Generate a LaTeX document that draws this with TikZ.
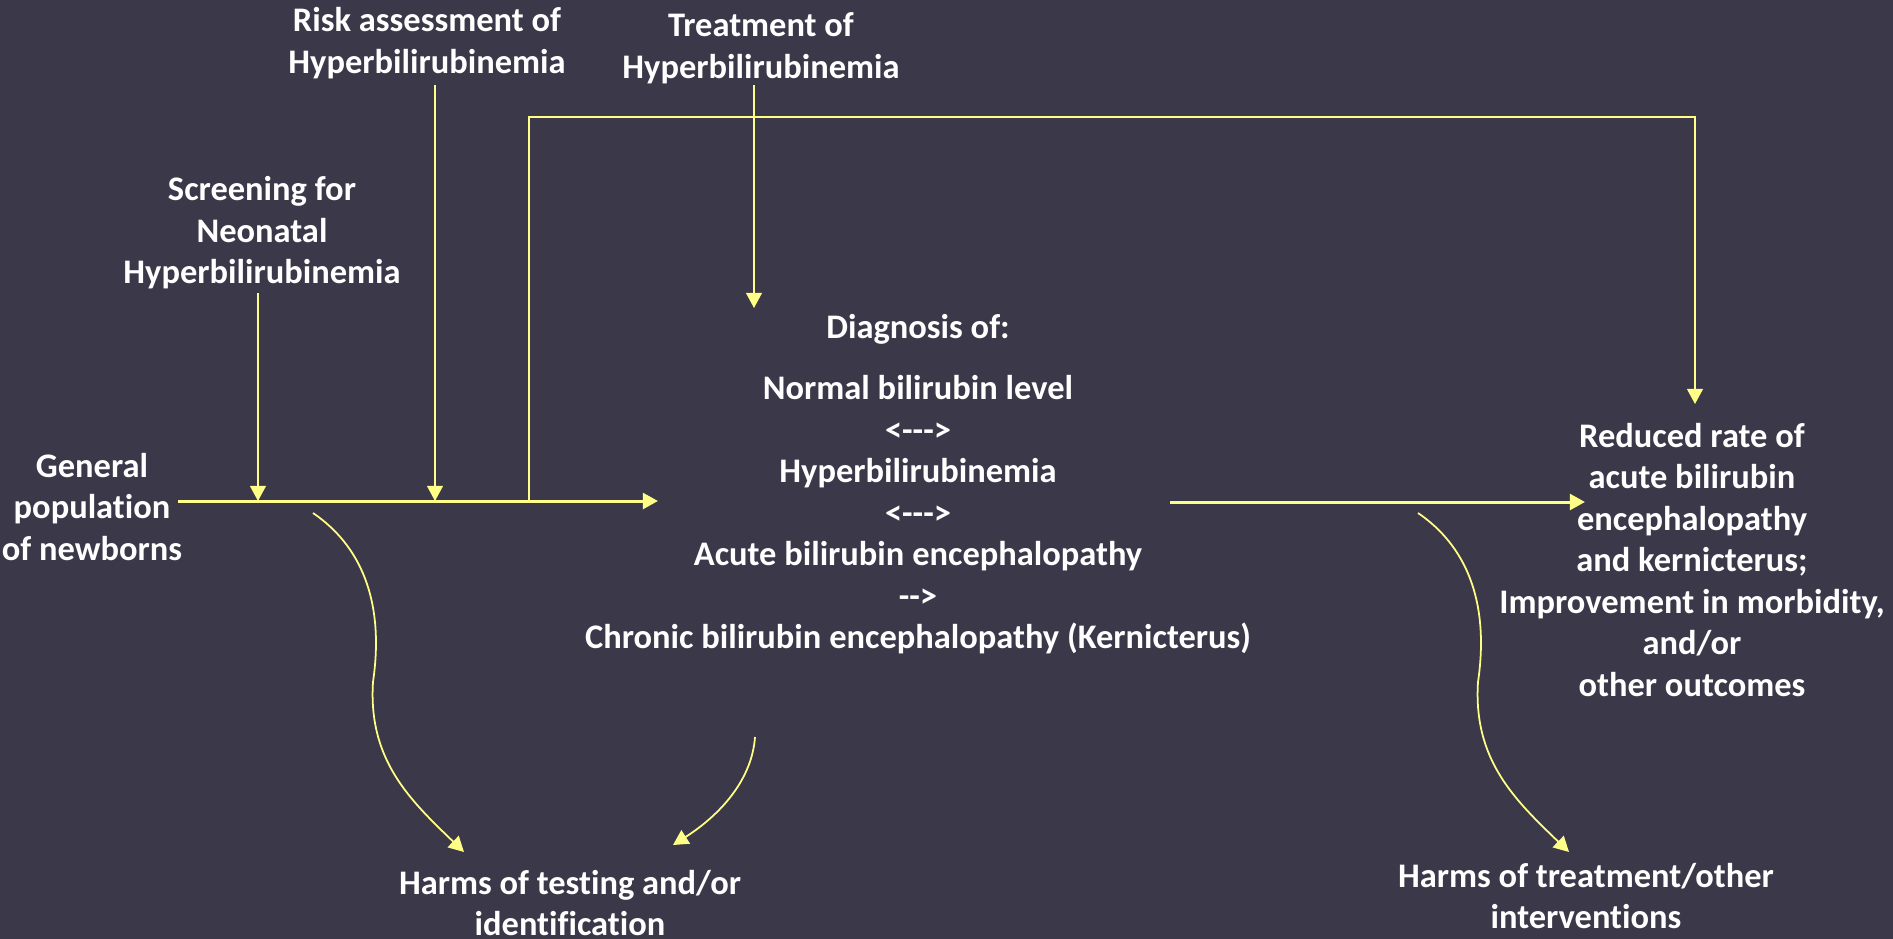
\documentclass[tikz,border=0pt]{standalone}
\usepackage{fontspec}
\setmainfont{Carlito}[Ligatures={TeX,NoCommon}]
\usetikzlibrary{arrows.meta}
\definecolor{bgc}{RGB}{59,56,73}
\definecolor{yel}{RGB}{255,255,136}
\newcommand{\hy}{\mbox{-}}
\begin{document}
\begin{tikzpicture}[x=0.01cm,y=-0.01cm,
  lbl/.style={text=white,align=center,inner sep=0pt,font=\fontsize{9.8}{11.8}\selectfont\bfseries},
  conn/.style={draw=yel,line width=0.5pt,-{Triangle[length=4.3pt,width=4.5pt]}},
  mainconn/.style={conn,line width=0.85pt},
  fbconn/.style={conn,line width=0.6pt}]
\fill[bgc] (0,0) rectangle (1893,939);
\useasboundingbox (0,0) rectangle (1893,939);

% nodes
\node[lbl] (general) at (92,507) {General\\population\\of newborns};
\node[lbl] (screen) at (262,233) {Screening for\\Neonatal\\Hyperbilirubinemia};
\node[lbl] (risk) at (427,43) {Risk assessment of\\Hyperbilirubinemia};
\node[lbl] (treat) at (761,48) {Treatment of\\Hyperbilirubinemia};
\node[lbl] (diag) at (918,484) {Diagnosis of:\\[5.7pt]Normal bilirubin level\\<\hy\hy\hy>\\Hyperbilirubinemia\\<\hy\hy\hy>\\Acute bilirubin encephalopathy\\\hy\hy>\\Chronic bilirubin encephalopathy (Kernicterus)};
\node[lbl] (outcome) at (1692,560) {Reduced rate of\\acute bilirubin\\encephalopathy\\and kernicterus;\\Improvement in morbidity,\\and/or\\other outcomes};
\node[lbl] (harmT) at (570,903) {Harms of testing and/or\\identification};
\node[lbl] (harmR) at (1586,896) {Harms of treatment/other\\interventions};

% coordinates
\coordinate (mS) at (178,501);
\coordinate (j1) at (258,501);
\coordinate (j2) at (435,501);
\coordinate (j3) at (529,501);
\coordinate (mE) at (658,501);
\coordinate (scrT) at (258,293);
\coordinate (riskT) at (435,85);
\coordinate (trT) at (754,85);
\coordinate (trE) at (754,308);
\coordinate (fbA) at (529,117);
\coordinate (fbE) at (1695,404);
\coordinate (rS) at (1170,502);
\coordinate (rE) at (1585,502);
\coordinate (cL0) at (313,513);
\coordinate (cLm) at (373,682);
\coordinate (cLe) at (464,852);
\coordinate (cR0) at (1418,513);
\coordinate (cRm) at (1478,682);
\coordinate (cRe) at (1569,852);
\coordinate (cD0) at (755,737);
\coordinate (cDe) at (673,845);

% connectors
\draw[mainconn] (mS) -- (mE);
\draw[conn] (scrT) -- (j1);
\draw[conn] (riskT) -- (j2);
\draw[fbconn] (j3) -- (fbA) -| (fbE);
\draw[conn] (trT) -- (trE);
\draw[mainconn] (rS) -- (rE);
\draw[conn] (cL0) .. controls +(47,32) and +(12,-82) .. (cLm) .. controls +(-5,78) and +(-54,-52) .. (cLe);
\draw[conn] (cR0) .. controls +(47,32) and +(12,-82) .. (cRm) .. controls +(-5,78) and +(-54,-52) .. (cRe);
\draw[conn] (cD0) .. controls +(-3,43) and +(47,-30) .. (cDe);
\end{tikzpicture}
\end{document}
